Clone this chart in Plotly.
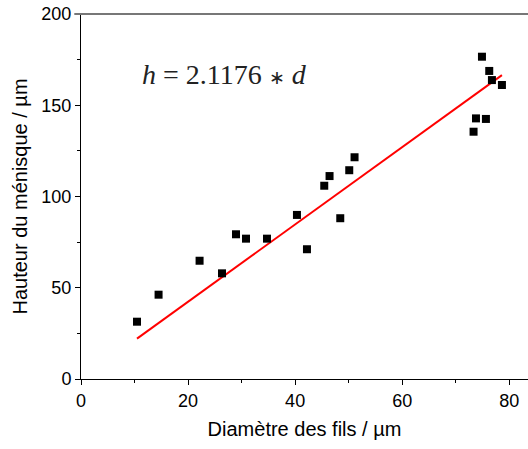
import plotly.graph_objects as go

diam = [10.46, 14.49, 22.15, 26.34, 28.95, 30.82, 34.74, 40.34, 42.21, 45.44,
        46.43, 48.43, 50.11, 51.10, 73.33, 73.78, 74.90, 75.64, 76.26, 76.76, 78.63]
hauteur = [31.4, 46.2, 64.8, 57.9, 79.3, 76.9, 76.9, 89.9, 71.1, 105.9,
           111.2, 88.1, 114.4, 121.5, 135.5, 142.8, 176.6, 142.5, 168.8, 163.8, 161.1]
slope = 2.1176
fit_x = [min(diam), max(diam)]
fit_y = [slope * v for v in fit_x]

x_ticks = [0, 20, 40, 60, 80]
y_ticks = [0, 50, 100, 150, 200]

fig = go.Figure()
fig.add_trace(go.Scatter(x=fit_x, y=fit_y, mode="lines",
                         line=dict(color="#ff0000", width=2), showlegend=False))
fig.add_trace(go.Scatter(x=diam, y=hauteur, mode="markers",
                         marker=dict(symbol="square", size=8, color="black"),
                         showlegend=False))

font = "Liberation Sans, Arial, sans-serif"
fig.update_layout(
    width=528, height=449,
    margin=dict(l=81, r=0, t=14, b=70),
    plot_bgcolor="white", paper_bgcolor="white",
    font=dict(family=font, size=18, color="black"),
    xaxis=dict(range=[0, 83.5], tickvals=x_ticks, ticks="outside", ticklen=5,
               tickcolor="black", showline=True, linecolor="black", linewidth=1,
               showgrid=False, zeroline=False, tickfont=dict(size=18),
               minor=dict(tickvals=[10, 30, 50, 70], ticks="outside", ticklen=3, tickcolor="black"),
               title=dict(text="Diamètre des fils / µm", font=dict(size=20), standoff=12)),
    yaxis=dict(range=[0, 200], tickvals=y_ticks, ticks="outside", ticklen=5,
               tickcolor="black", showline=True, linecolor="black", linewidth=1,
               showgrid=False, zeroline=False, tickfont=dict(size=18),
               minor=dict(tickvals=[25, 75, 125, 175], ticks="outside", ticklen=3, tickcolor="black"),
               title=dict(text="Hauteur du ménisque / µm", font=dict(size=20), standoff=8)),
    shapes=[dict(type="line", xref="paper", yref="paper", x0=-0.015, x1=1, y0=1, y1=1,
                 line=dict(color="#777777", width=2))],
    annotations=[dict(x=26.8, y=166.6, xref="x", yref="y", showarrow=False,
                      text="<i>h</i> = 2.1176 <span style='font-size:19px'>∗</span> <i>d</i>",
                      font=dict(family="Liberation Serif, serif", size=28, color="#222222"))],
)
fig.write_html("out.html")
